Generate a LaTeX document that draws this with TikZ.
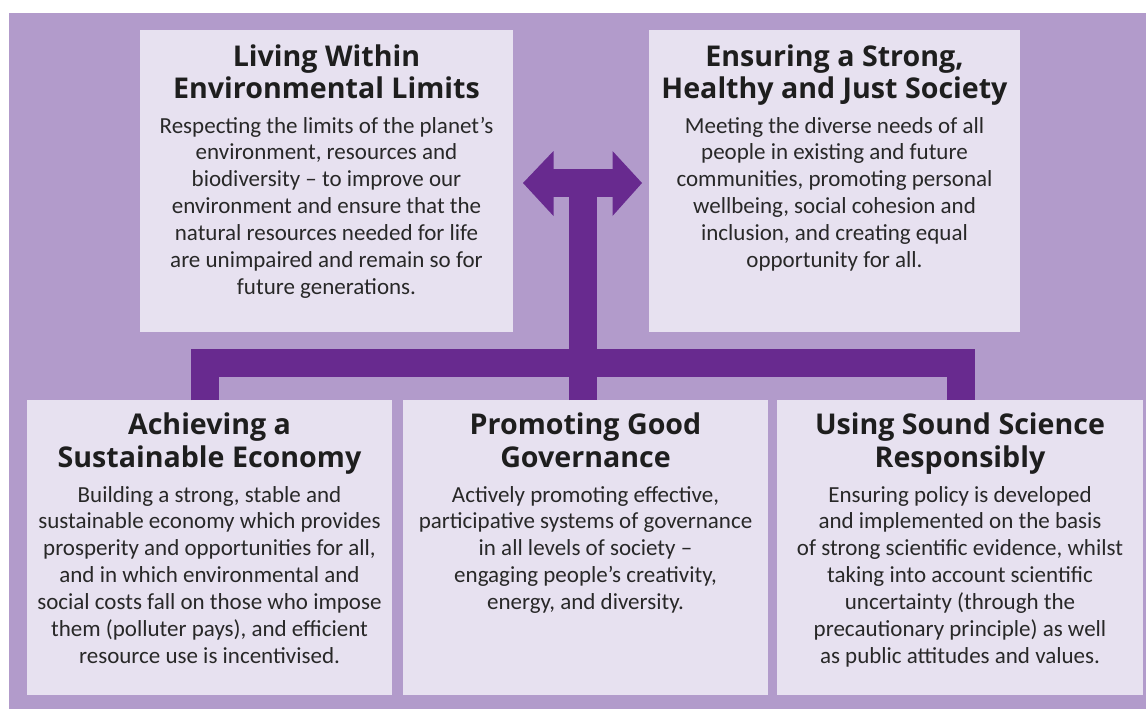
\documentclass[tikz,border=0pt]{standalone}
\usepackage{fontspec}
\setmainfont{Carlito}
\newfontfamily\titlefont{Open Sans}
\definecolor{bgpurple}{RGB}{178,155,203}
\definecolor{boxfill}{RGB}{231,225,240}
\definecolor{darkpurple}{RGB}{104,42,143}
\definecolor{titletext}{RGB}{30,30,30}
\definecolor{bodytext}{RGB}{40,40,40}
\begin{document}
\begin{tikzpicture}[x=1pt,y=-1pt,
  panel/.style={fill=boxfill,draw=none,inner sep=0pt,outer sep=0pt},
  ttl/.style={anchor=base,align=center,inner sep=0pt,text=titletext,
    font=\titlefont\fontsize{28.6}{32.3}\selectfont\bfseries},
  bdy/.style={anchor=base,align=center,inner sep=0pt,text=bodytext,
    font=\fontsize{23}{26.9}\selectfont},
  bus/.style={draw=darkpurple,line width=28pt,line cap=butt,line join=miter},
  head/.style={fill=darkpurple,draw=none}]
\useasboundingbox (0,0) rectangle (1146,709);
\fill[white] (0,0) rectangle (1146,709);
\fill[bgpurple] (9,13) rectangle (1146,709);
% panels
\node[panel,minimum width=373pt,minimum height=302pt,anchor=north west] (tl) at (140,30) {};
\node[panel,minimum width=371pt,minimum height=302pt,anchor=north west] (tr) at (649,30) {};
\node[panel,minimum width=365pt,minimum height=295pt,anchor=north west] (bl) at (27,400) {};
\node[panel,minimum width=365pt,minimum height=295pt,anchor=north west] (bm) at (403,400) {};
\node[panel,minimum width=366pt,minimum height=295pt,anchor=north west] (br) at (777,400) {};
% connector coordinates
\coordinate (ljoin) at (204.5,400);
\coordinate (rjoin) at (961,400);
\coordinate (mjoin) at (582.5,400);
\coordinate (arrowc) at (582.5,183);
\coordinate (lhead) at (553,183);
\coordinate (rhead) at (613,183);
\draw[bus] (ljoin) -- (204.5,362.5) -- (961,362.5) -- (rjoin);
\draw[bus] (mjoin) -- (arrowc);
\draw[bus] (lhead) -- (rhead);
\fill[head] (553.5,151) -- (523,183) -- (553.5,216) -- cycle;
\fill[head] (612.5,151) -- (642,183) -- (612.5,216) -- cycle;
% texts (anchor base = baseline of last line)
\node[ttl] (tlt) at (326.5,99) {Living Within\\Environmental Limits};
\node[bdy] (tlb) at (326.5,294.4) {Respecting the limits of the planet’s\\environment, resources and\\biodiversity – to improve our\\environment and ensure that the\\natural resources needed for life\\are unimpaired and remain so for\\future generations.};
\node[ttl] (trt) at (834.5,99) {Ensuring a Strong,\\Healthy and Just Society};
\node[bdy] (trb) at (834.5,267.5) {Meeting the diverse needs of all\\people in existing and future\\communities, promoting personal\\wellbeing, social cohesion and\\inclusion, and creating equal\\opportunity for all.};
\node[ttl] (blt) at (209.5,467) {Achieving a\\Sustainable Economy};
\node[bdy] (blb) at (209.5,663.4) {Building a strong, stable and\\sustainable economy which provides\\prosperity and opportunities for all,\\and in which environmental and\\social costs fall on those who impose\\them (polluter pays), and efficient\\resource use is incentivised.};
\node[ttl] (bmt) at (585.5,467) {Promoting Good\\Governance};
\node[bdy] (bmb) at (585.5,609.6) {Actively promoting effective,\\participative systems of governance\\in all levels of society –\\engaging people’s creativity,\\energy, and diversity.};
\node[ttl] (brt) at (960,467) {Using Sound Science\\Responsibly};
\node[bdy] (brb) at (960,663.4) {Ensuring policy is developed\\and implemented on the basis\\of strong scientific evidence, whilst\\taking into account scientific\\uncertainty (through the\\precautionary principle) as well\\as public attitudes and values.};
\end{tikzpicture}
\end{document}
